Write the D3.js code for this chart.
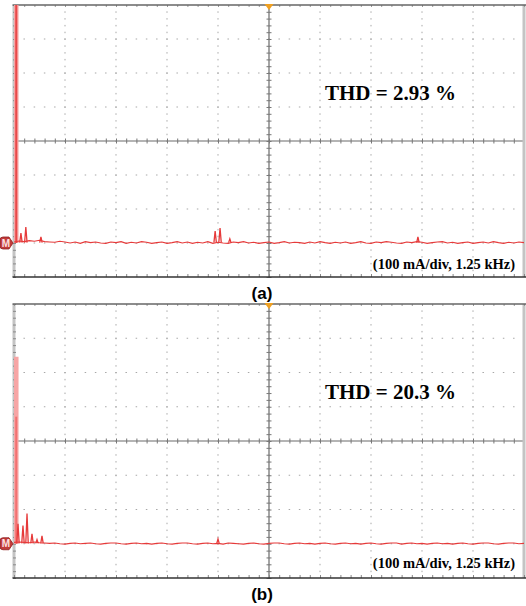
<!DOCTYPE html>
<html>
<head>
<meta charset="utf-8">
<script src="https://cdn.jsdelivr.net/npm/d3@7"></script>
<style>
  html, body { margin: 0; padding: 0; background: #fff; }
  svg { display: block; }
</style>
</head>
<body>
<div id="chart"></div>
<script>
// spectrum data, frequency in Hz, amplitude in mA (0 = trace baseline)
const labels = ["(a)", "(b)"];
const thdText = ["THD = 2.93 %", "THD = 20.3 %"];
const scaleText = "(100 mA/div, 1.25 kHz)";

const fundFreq = 50;
const fundPeak = [900, 546];   // light band top
const fundCore = [900, 371];   // darker core top

const harmonicsA = [
  { f: 170, a: 29 }, { f: 290, a: 47 }, { f: 660, a: 18 },
  { f: 4930, a: 35 }, { f: 5050, a: 44 }, { f: 5290, a: 12 },
  { f: 9900, a: 18 }
];
const harmonicsB = [
  { f: 98, a: 58 }, { f: 220, a: 53 }, { f: 319, a: 88 },
  { f: 441, a: 29 }, { f: 564, a: 12 }, { f: 686, a: 23 },
  { f: 5000, a: 14 }
];

// baseline noise, one value per 125 Hz bin
const binStep = 125;
const noiseA = [3, 6, 4, 7, 5, 8, 4, 3, 2, 5, 3, 0, 3, -1, 4, 1, 3, 0, -1, 3,
  1, 4, -1, 2, 0, 4, 2, -1, 1, 3, -1, 1, 4, 0, 3, -1, 2, 0, 4, -1,
  2, 0, -1, 3, 1, 4, 0, 2, -1, 1, 3, -1, 1, 4, 0, 2, 1, -1, 3, 0,
  4, 1, -1, 2, 0, 3, -1, 1, 4, 0, -1, 3, 1, 4, 2, 0, -1, 3, 1, 4,
  2, -1, 1, 3, 4, 0, 2, -1, 1, 3, -1, 1, 3, 0, 4, 1, -1, 2, 0, 3, 1];
const noiseB = [4, 5, 4, 3, 5, 3, 2, 1, 2, 0, -1, 1, 2, 0, 1, 2, 0, -1, 1, 2,
  2, 0, -1, 1, 2, 0, 1, -1, 1, 2, 0, -1, 1, 2, 2, 0, -1, 1, 2, 0,
  1, -1, 2, 1, 0, -1, 1, 2, 0, -1, 1, 2, 2, 0, -1, 1, 2, 0, 1, -1,
  1, 2, 0, -1, 1, 2, 0, 1, -1, 1, 2, 0, -1, 1, 2, 2, -1, 1, 2, 0,
  1, -1, 1, 2, 0, 1, -1, 1, 2, 0, -1, 1, 2, 2, 0, -1, 1, 2, 2, 0, 1];

const harmonics = [harmonicsA, harmonicsB];
const noise = [noiseA, noiseB];

const width = 526, height = 606;
const panels = [{ top: 5, bottom: 277 }, { top: 304, bottom: 578 }];
const left = 14, right = 524;
const traceColor = "#e63a3a";

let svg = d3.select("#chart").append("svg")
  .attr("width", width)
  .attr("height", height);

let xScale = d3.scaleLinear().domain([0, 12500]).range([left, right]);
let xMinor = d3.range(0, 12501, 250);
let xMajor = d3.range(1250, 12500, 1250);

panels.forEach((p, i) => {
  let yScale = d3.scaleLinear().domain([-100, 700]).range([p.bottom, p.top]);
  let yMinor = d3.range(-100, 701, 20);
  let yMajor = d3.range(0, 700, 100);
  let g = svg.append("g").attr("class", "panel");

  g.append("clipPath").attr("id", "clip" + i)
    .append("rect")
    .attr("x", left).attr("y", p.top)
    .attr("width", right - left).attr("height", p.bottom - p.top);

  // dotted grid
  let dots = g.append("g").attr("fill", "#a8a8a8");
  xMajor.filter(v => v !== 6250).forEach(v => {
    dots.selectAll(null).data(yMinor.slice(1, -1)).enter().append("rect")
      .attr("x", xScale(v) - 0.5).attr("y", d => yScale(d) - 0.5)
      .attr("width", 1).attr("height", 1.5);
  });
  yMajor.filter(v => v !== 300).forEach(v => {
    dots.selectAll(null).data(xMinor.slice(1, -1)).enter().append("rect")
      .attr("x", d => xScale(d) - 0.75).attr("y", yScale(v) - 0.5)
      .attr("width", 1.5).attr("height", 1);
  });

  // centre cross with minor ticks
  let cx = xScale(6250), cy = yScale(300);
  g.append("line").attr("x1", cx).attr("x2", cx).attr("y1", p.top).attr("y2", p.bottom)
    .attr("stroke", "#6a6a6a").attr("stroke-width", 1.2);
  g.append("line").attr("x1", left).attr("x2", right).attr("y1", cy).attr("y2", cy)
    .attr("stroke", "#6a6a6a").attr("stroke-width", 1.2);

  let xAxis = d3.axisBottom(xScale).tickValues(xMinor).tickSize(5).tickFormat("");
  g.append("g").attr("transform", `translate(0,${cy - 2.5})`).call(xAxis)
    .call(a => a.select(".domain").remove())
    .selectAll("line").attr("stroke", "#777");
  let yAxis = d3.axisRight(yScale).tickValues(yMinor).tickSize(5).tickFormat("");
  g.append("g").attr("transform", `translate(${cx - 2.5},0)`).call(yAxis)
    .call(a => a.select(".domain").remove())
    .selectAll("line").attr("stroke", "#777");

  // frame
  g.append("rect").attr("x", left - 1.5).attr("y", p.top).attr("width", 3)
    .attr("height", p.bottom - p.top).attr("fill", "#c4c4c4");
  g.append("rect").attr("x", right - 1.5).attr("y", p.top).attr("width", 3)
    .attr("height", p.bottom - p.top).attr("fill", "#c4c4c4");
  let lAxis = d3.axisRight(yScale).tickValues(yMinor).tickSize(3).tickFormat("");
  g.append("g").attr("transform", `translate(${left - 1},0)`).call(lAxis)
    .call(a => a.select(".domain").remove())
    .selectAll("line").attr("stroke", "#8a8a8a");
  let tAxis = d3.axisBottom(xScale).tickValues(xMinor).tickSize(2).tickFormat("");
  g.append("g").attr("transform", `translate(0,${p.top})`).call(tAxis)
    .call(a => a.select(".domain").remove())
    .selectAll("line").attr("stroke", "#999");
  let bAxis = d3.axisTop(xScale).tickValues(xMinor).tickSize(3).tickFormat("");
  g.append("g").attr("transform", `translate(0,${p.bottom})`).call(bAxis)
    .call(a => a.select(".domain").remove())
    .selectAll("line").attr("stroke", "#888");
  g.append("line").attr("x1", left - 1.5).attr("x2", right + 2).attr("y1", p.top).attr("y2", p.top)
    .attr("stroke", "#666").attr("stroke-width", 1.5);
  g.append("line").attr("x1", left - 1.5).attr("x2", right + 2).attr("y1", p.bottom).attr("y2", p.bottom)
    .attr("stroke", "#333").attr("stroke-width", 1.5);

  // trigger marker
  g.append("path")
    .attr("d", `M${cx - 4.5},${p.top - 1}L${cx + 4.5},${p.top - 1}L${cx},${p.top + 5}Z`)
    .attr("fill", "#f0a020");

  // trace
  let tr = g.append("g").attr("clip-path", `url(#clip${i})`);
  let fx = xScale(fundFreq);
  tr.append("rect").attr("x", fx - 2).attr("width", 4.5)
    .attr("y", yScale(fundPeak[i])).attr("height", yScale(0) - yScale(fundPeak[i]))
    .attr("fill", "#f7a5a5");
  tr.append("rect").attr("x", fx - 0.8).attr("width", 2)
    .attr("y", yScale(fundCore[i])).attr("height", yScale(0) - yScale(fundCore[i]))
    .attr("fill", i === 0 ? "#e84848" : "#f27070");

  let line = d3.line()
    .x((d, k) => xScale(k * binStep))
    .y(d => yScale(d));
  tr.append("path").attr("d", line(noise[i]))
    .attr("fill", "none").attr("stroke", traceColor).attr("stroke-width", 1.1);

  let spike = d3.line().x(d => xScale(d[0])).y(d => yScale(d[1]));
  tr.selectAll(".spike").data(harmonics[i]).enter().append("path")
    .attr("class", "spike")
    .attr("d", d => spike([[d.f - 30, 1], [d.f, d.a], [d.f + 30, 1]]))
    .attr("fill", "none").attr("stroke", traceColor).attr("stroke-width", 1.3);

  // channel marker
  let my = yScale(0);
  g.append("path")
    .attr("d", `M3,${my - 6}L9,${my - 6}L13,${my}L9,${my + 6}L3,${my + 6}Q0,${my + 6} 0,${my + 3}L0,${my - 3}Q0,${my - 6} 3,${my - 6}Z`)
    .attr("fill", "#c23b3b").attr("stroke", "#8e1f1f").attr("stroke-width", 0.8);
  g.append("text").attr("x", 6).attr("y", my + 3.5)
    .attr("text-anchor", "middle")
    .style("font-family", "Liberation Sans, Arial, sans-serif")
    .style("font-weight", "bold").style("font-size", "10px")
    .attr("fill", "#ffe0e0").text("M");

  // texts
  g.append("text").attr("x", 325).attr("y", p.top + 95)
    .style("font-family", "Liberation Serif, Times New Roman, serif")
    .style("font-weight", "bold").style("font-size", "21px")
    .attr("fill", "#000").text(thdText[i]);
  g.append("text").attr("x", 515).attr("y", p.top + 264)
    .attr("text-anchor", "end")
    .style("font-family", "Liberation Serif, Times New Roman, serif")
    .style("font-weight", "bold").style("font-size", "14.5px")
    .attr("fill", "#000").text(scaleText);
  g.append("text").attr("x", 262).attr("y", p.bottom + 22)
    .attr("text-anchor", "middle")
    .style("font-family", "Liberation Sans, Arial, sans-serif")
    .style("font-weight", "bold").style("font-size", "17px")
    .attr("fill", "#000").text(labels[i]);
});
</script>
</body>
</html>
